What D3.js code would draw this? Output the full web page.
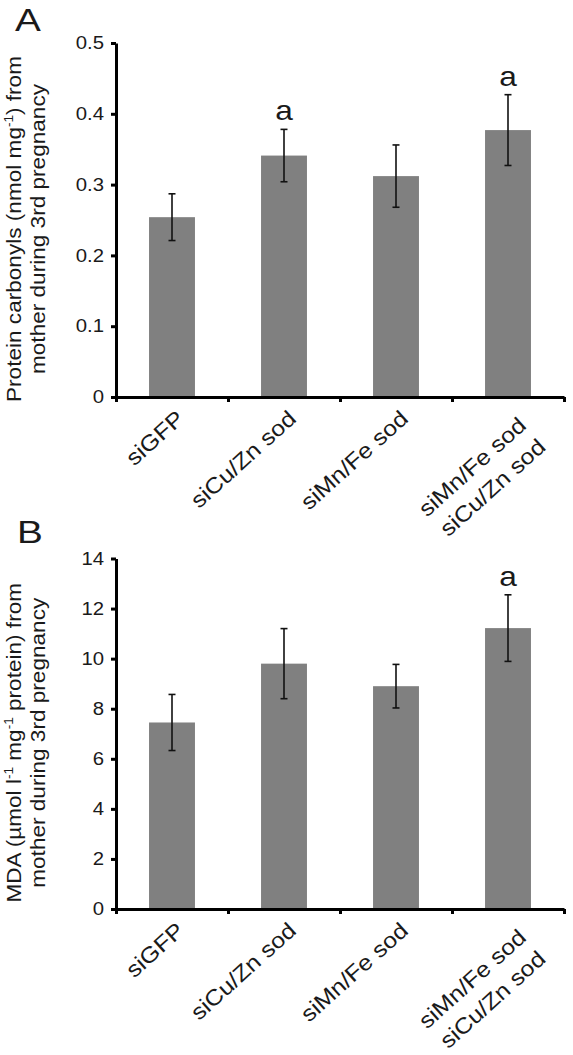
<!DOCTYPE html>
<html>
<head>
<meta charset="utf-8">
<script src="https://cdn.jsdelivr.net/npm/d3@7"></script>
<style>
  html, body { margin: 0; padding: 0; background: #fff; }
  svg { display: block; }
  text { font-family: "Liberation Sans", Arial, sans-serif; fill: #1a1a1a; }
</style>
</head>
<body>
<script>
// ---------- data ----------
const categories = [["siGFP"], ["siCu/Zn sod"], ["siMn/Fe sod"], ["siMn/Fe sod", "siCu/Zn sod"]];

const carbonylMeans  = [0.254, 0.341, 0.312, 0.377];
const carbonylErrors = [0.033, 0.037, 0.044, 0.050];
const carbonylSig    = ["", "a", "", "a"];
const carbonylTicks  = [0, 0.1, 0.2, 0.3, 0.4, 0.5];
const carbonylTitle  = [["Protein carbonyls (nmol mg", "-1", ") from"], ["mother during 3rd pregnancy"]];

const mdaMeans  = [7.45, 9.8, 8.9, 11.22];
const mdaErrors = [1.12, 1.40, 0.87, 1.33];
const mdaSig    = ["", "", "", "a"];
const mdaTicks  = [0, 2, 4, 6, 8, 10, 12, 14];
const mdaTitle  = [["MDA (\u00b5mol l", "-1", " mg", "-1", " protein) from"], ["mother during 3rd pregnancy"]];

const panelLetters = ["A", "B"];

// ---------- layout ----------
const W = 573, H = 1055;
const svg = d3.select("body").append("svg").attr("width", W).attr("height", H);
const STRETCH = 1.13;   // reference typeface is wider than Liberation Sans
const LABEL_ANGLE = -42;

const panels = [
  { letter: panelLetters[0], means: carbonylMeans, errs: carbonylErrors, sig: carbonylSig, ticks: carbonylTicks,
    title: carbonylTitle, top: 43, bottom: 397, lx: 15, ly: 30.5 },
  { letter: panelLetters[1], means: mdaMeans, errs: mdaErrors, sig: mdaSig, ticks: mdaTicks,
    title: mdaTitle, top: 558.5, bottom: 909, lx: 17, ly: 543 }
];

const left = 116, right = 564;

panels.forEach(p => {
  const g = svg.append("g");
  const x = d3.scaleBand().domain(d3.range(categories.length)).range([left, right]).paddingInner(0.59).paddingOuter(0.295);
  const xb = d3.scaleLinear().domain([0, categories.length]).range([left, right]);
  const y = d3.scaleLinear().domain([0, d3.max(p.ticks)]).range([p.bottom, p.top]);
  const cxOf = i => x(i) + x.bandwidth() / 2;

  // bars
  g.selectAll("rect.bar").data(p.means).join("rect")
    .attr("x", (d, i) => x(i)).attr("width", x.bandwidth())
    .attr("y", d => y(d)).attr("height", d => y(0) - y(d))
    .attr("fill", "#808080");

  // error bars
  const eb = g.selectAll("g.err").data(p.means).join("g").attr("class", "err")
    .attr("stroke", "#111").attr("stroke-width", 1.6);
  eb.append("line").attr("x1", (d, i) => cxOf(i)).attr("x2", (d, i) => cxOf(i))
    .attr("y1", (d, i) => y(d + p.errs[i])).attr("y2", (d, i) => y(d - p.errs[i]));
  eb.append("line").attr("x1", (d, i) => cxOf(i) - 3.5).attr("x2", (d, i) => cxOf(i) + 3.5)
    .attr("y1", (d, i) => y(d + p.errs[i])).attr("y2", (d, i) => y(d + p.errs[i]));
  eb.append("line").attr("x1", (d, i) => cxOf(i) - 3.5).attr("x2", (d, i) => cxOf(i) + 3.5)
    .attr("y1", (d, i) => y(d - p.errs[i])).attr("y2", (d, i) => y(d - p.errs[i]));

  // significance letters
  g.selectAll("text.sig").data(p.means).join("text")
    .attr("transform", (d, i) => `translate(${cxOf(i)},${y(d + p.errs[i]) - 9}) scale(${STRETCH},1)`)
    .attr("text-anchor", "middle").attr("font-size", 28)
    .text((d, i) => p.sig[i]);

  // y axis
  const ya = g.append("g").attr("transform", `translate(${left},0)`)
    .call(d3.axisLeft(y).tickValues(p.ticks).tickSize(5).tickSizeOuter(0).tickPadding(7).tickFormat(d3.format("")));
  ya.select(".domain").attr("stroke", "#000").attr("stroke-width", 3);
  ya.selectAll(".tick line").attr("stroke", "#000").attr("stroke-width", 3);
  ya.selectAll(".tick text")
    .attr("font-size", 18).attr("font-family", '"Liberation Sans", Arial, sans-serif').attr("fill", "#1a1a1a")
    .attr("x", null).attr("transform", `translate(-12,0) scale(${STRETCH},1)`);

  // x axis (ticks between categories)
  const xa = g.append("g").attr("transform", `translate(0,${p.bottom})`)
    .call(d3.axisBottom(xb).tickValues(d3.range(categories.length + 1)).tickSize(5).tickSizeOuter(0).tickFormat(""));
  xa.select(".domain").attr("stroke", "#000").attr("stroke-width", 3);
  xa.selectAll(".tick line").attr("stroke", "#000").attr("stroke-width", 3);

  // category labels
  categories.forEach((lines, i) => {
    const t = g.append("text")
      .attr("transform", `translate(${cxOf(i) + 13.5},${p.bottom + 23.5}) rotate(${LABEL_ANGLE}) scale(${STRETCH},1)`)
      .attr("text-anchor", "end").attr("font-size", 22);
    lines.forEach((ln, j) => {
      t.append("tspan").attr("x", 0).attr("y", j * 29 + (lines.length - 1) * 9).text(ln);
    });
  });

  // y title (two lines, superscripts)
  const cy = (p.top + p.bottom) / 2 + 9;
  p.title.forEach((parts, j) => {
    const t = g.append("text")
      .attr("transform", `translate(${21 + j * 24},${cy}) rotate(-90) scale(${STRETCH},1)`)
      .attr("text-anchor", "middle").attr("font-size", 20);
    let pending = 0;
    parts.forEach(part => {
      const s = t.append("tspan");
      if (part === "-1") {
        s.attr("font-size", 12).attr("dy", pending - 8).text(part);
        pending = 8;
      } else {
        s.attr("dy", pending).text(part);
        pending = 0;
      }
    });
  });

  // panel letter
  g.append("text").attr("transform", `translate(${p.lx},${p.ly}) scale(1.25,1)`).attr("font-size", 31).text(p.letter);
});
</script>
</body>
</html>
